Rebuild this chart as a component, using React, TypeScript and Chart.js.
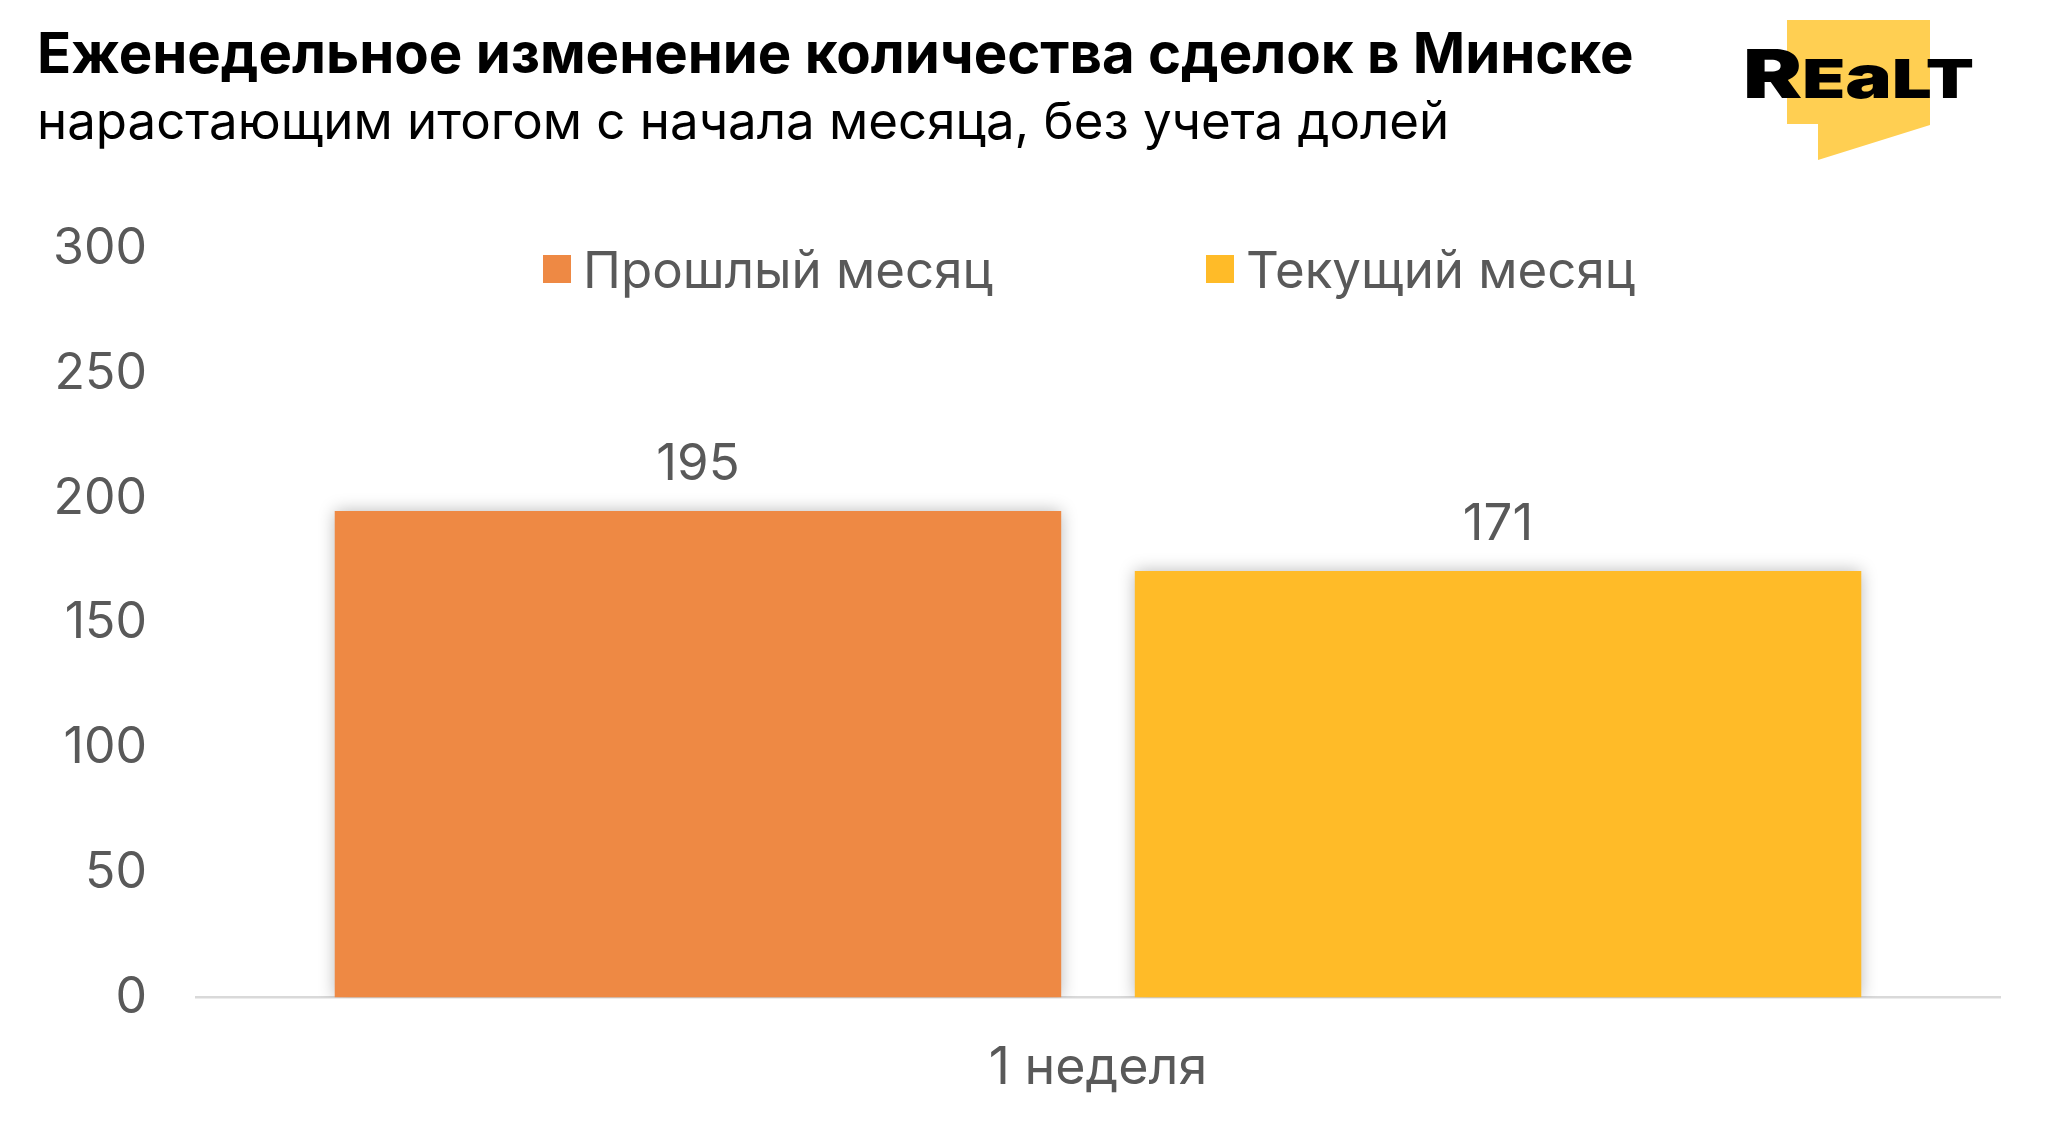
import { useEffect, useRef } from 'react';
import { Chart, registerables } from 'chart.js';
import type { Plugin } from 'chart.js';

Chart.register(...registerables);

const CATEGORIES = ['1 неделя'];
const SERIES_NAMES = ['Прошлый месяц', 'Текущий месяц'];
const PREV_MONTH = [195];
const CURR_MONTH = [171];
const SERIES_COLORS = ['#EE8944', '#FFBB28'];

const Y_MAX = 300;
const Y_STEP = 50;

const FONT = 'Inter, "Noto Sans", sans-serif';
const GREY = '#595959';

// soft shadow round the bars, like the Excel original
const barShadow: Plugin<'bar'> = {
  id: 'barShadow',
  beforeDatasetsDraw(chart) {
    const ctx = chart.ctx;
    ctx.save();
    ctx.shadowColor = 'rgba(0,0,0,0.28)';
    ctx.shadowBlur = 16;
    ctx.shadowOffsetX = 0;
    ctx.shadowOffsetY = 0;
  },
  afterDatasetsDraw(chart) {
    chart.ctx.restore();
  },
};

const valueLabels: Plugin<'bar'> = {
  id: 'valueLabels',
  afterDatasetsDraw(chart) {
    const ctx = chart.ctx;
    ctx.save();
    ctx.font = `400 51px ${FONT}`;
    ctx.fillStyle = GREY;
    ctx.textAlign = 'center';
    ctx.textBaseline = 'middle';
    chart.data.datasets.forEach((ds, i) => {
      const meta = chart.getDatasetMeta(i);
      meta.data.forEach((bar, j) => {
        ctx.fillText(String(ds.data[j]), bar.x, bar.y - 46);
      });
    });
    ctx.restore();
  },
};

function Logo() {
  return (
    <svg width={2048} height={200} style={{ position: 'absolute', left: 0, top: 0 }}>
      <polygon points="1787,20 1930,20 1930,125 1818,160 1818,124 1787,124" fill="#FFCF52" />
      <text
        x={1743}
        y={98}
        textLength={231}
        lengthAdjust="spacingAndGlyphs"
        fontFamily={FONT}
        fontWeight={900}
        fill="#000"
      >
        <tspan fontSize={68}>R</tspan>
        <tspan fontSize={54}>E</tspan>
        <tspan fontSize={60}>a</tspan>
        <tspan fontSize={54}>LT</tspan>
      </text>
    </svg>
  );
}

export default function App() {
  const canvasRef = useRef<HTMLCanvasElement>(null);

  useEffect(() => {
    if (!canvasRef.current) return;
    const chart = new Chart(canvasRef.current, {
      type: 'bar',
      data: {
        labels: CATEGORIES,
        datasets: [
          { label: SERIES_NAMES[0], data: PREV_MONTH, backgroundColor: SERIES_COLORS[0] },
          { label: SERIES_NAMES[1], data: CURR_MONTH, backgroundColor: SERIES_COLORS[1] },
        ],
      },
      options: {
        responsive: false,
        animation: false,
        devicePixelRatio: 1,
        layout: { padding: { top: 249, right: 48, bottom: 8, left: 0 } },
        datasets: { bar: { categoryPercentage: 0.887, barPercentage: 0.908 } },
        plugins: {
          legend: { display: false },
          tooltip: { enabled: false },
        },
        scales: {
          x: {
            grid: { display: false, drawTicks: false },
            border: { display: true, color: '#D9D9D9', width: 2.5 },
            ticks: { color: GREY, font: { size: 52, family: FONT }, padding: 40 },
          },
          y: {
            min: 0,
            max: Y_MAX,
            grid: { display: false, drawTicks: false },
            border: { display: false },
            ticks: { stepSize: Y_STEP, color: GREY, font: { size: 50, family: FONT }, padding: 49 },
            afterFit: (axis) => { axis.width = 196; },
          },
        },
      },
      plugins: [barShadow, valueLabels],
    });
    return () => chart.destroy();
  }, []);

  return (
    <div style={{ position: 'absolute', left: 0, top: 0, width: 2048, height: 1148, background: '#fff', overflow: 'hidden', fontFamily: FONT }}>
      <canvas ref={canvasRef} width={2048} height={1148} style={{ position: 'absolute', left: 0, top: 0 }} />
      <div style={{ position: 'absolute', left: 37, top: 25, fontSize: 56.3, lineHeight: '56px', fontWeight: 700, color: '#000', whiteSpace: 'nowrap' }}>
        Еженедельное изменение количества сделок в Минске
      </div>
      <div style={{ position: 'absolute', left: 37, top: 95, fontSize: 51, lineHeight: '51px', fontWeight: 400, color: '#000', whiteSpace: 'nowrap' }}>
        нарастающим итогом с начала месяца, без учета долей
      </div>
      {SERIES_NAMES.map((name, i) => (
        <div key={name} style={{ position: 'absolute', left: i === 0 ? 543 : 1206, top: 240, height: 58, display: 'flex', alignItems: 'center', whiteSpace: 'nowrap' }}>
          <span style={{ width: 28, height: 28, background: SERIES_COLORS[i], marginRight: 12, display: 'inline-block' }} />
          <span style={{ fontSize: 51, color: GREY }}>{name}</span>
        </div>
      ))}
      <Logo />
    </div>
  );
}
